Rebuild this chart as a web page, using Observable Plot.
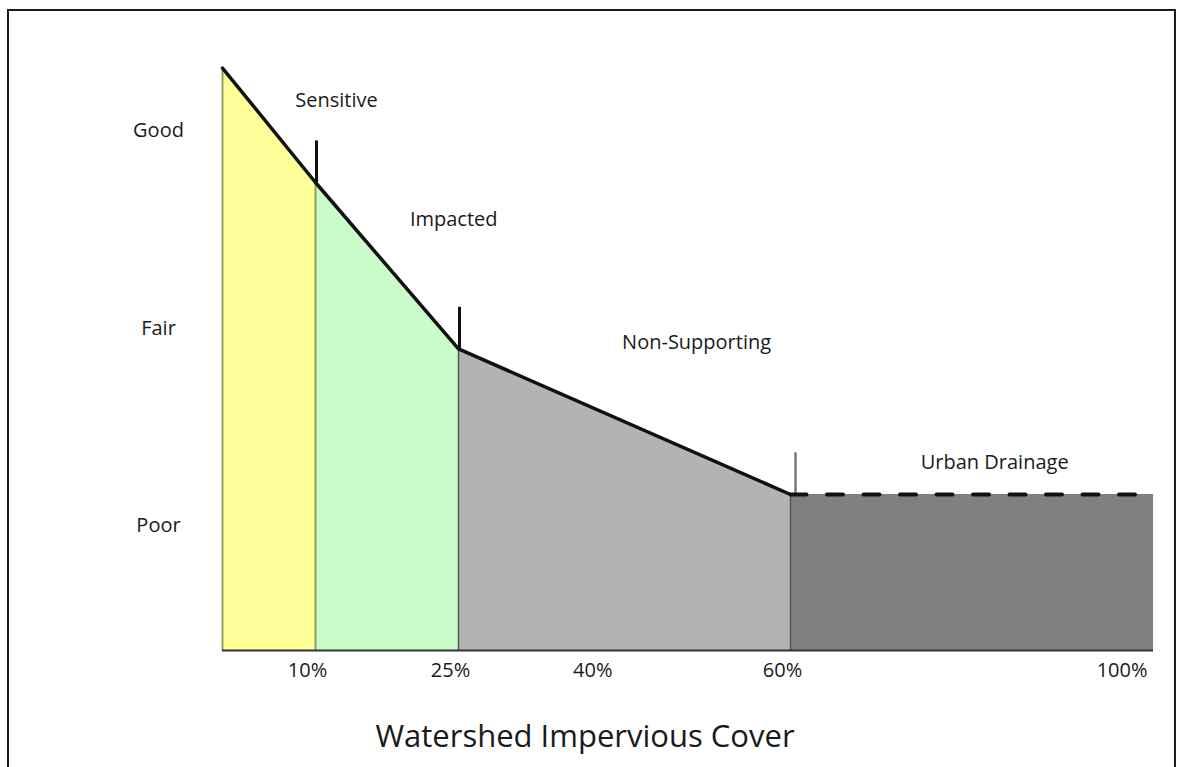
<!DOCTYPE html>
<html>
<head>
<meta charset="utf-8">
<script src="https://cdn.jsdelivr.net/npm/d3@7"></script>
<script src="https://cdn.jsdelivr.net/npm/@observablehq/plot@0.6"></script>
<style>
  html, body { margin: 0; padding: 0; background: #fff; }
  #wrap { position: relative; width: 1182px; height: 767px; overflow: hidden; background: #fff; font-family: "Open Sans", sans-serif; }
  #frame { position: absolute; left: 7px; top: 9px; width: 1169px; height: 800px; border: 2px solid #1c1c1c; box-sizing: border-box; }
  #chart { position: absolute; left: 0; top: 0; }
  #title { position: absolute; left: 0; width: 1170px; top: 720px; text-align: center; font-size: 31px; line-height: 31px; color: #1a1a1a; font-family: "Open Sans", sans-serif; }
</style>
</head>
<body>
<div id="wrap">
  <div id="frame"></div>
  <div id="chart"></div>
  <div id="title">Watershed Impervious Cover</div>
</div>
<script>
// Impervious cover break points (%) and stream quality index at each
const breakX = [0, 10, 25, 60, 100];
const quality = [112, 90, 58, 30, 30];
// Zones
const zones = ["Sensitive", "Impacted", "Non-Supporting", "Urban Drainage"];
const zoneColors = ["#ffff99", "#c9fcc9", "#b3b3b3", "#808080"];
// Zone label anchor positions (impervious %, quality index)
const labelX = [12.2, 24.5, 50.1, 82.5];
const labelY = [105.8, 82.9, 59.2, 36.2];
// Axis ticks
const xTicks = [10, 25, 40, 60, 100];
const yTicks = [24, 62, 100];
const yTickLabels = ["Poor", "Fair", "Good"];

const zoneData = zones.flatMap((z, i) => [
  {zone: z, x: breakX[i], q: quality[i]},
  {zone: z, x: breakX[i + 1], q: quality[i + 1]}
]);
const pts = breakX.map((x, i) => ({x, q: quality[i]}));
const labels = zones.map((z, i) => ({zone: z, x: labelX[i], q: labelY[i]}));
const yLabelOf = new Map(yTicks.map((v, i) => [v, yTickLabels[i]]));

const chart = Plot.plot({
  width: 1182,
  height: 700,
  marginLeft: 222,
  marginRight: 29,
  marginTop: 67.6,
  marginBottom: 50,
  x: {type: "linear", domain: breakX, range: [222, 315, 458, 790, 1153], axis: null},
  y: {domain: [0, 112], range: [650, 67.6], axis: null},
  color: {domain: zones, range: zoneColors},
  style: {fontFamily: "'Open Sans', sans-serif", background: "transparent", color: "#1a1a1a"},
  marks: [
    Plot.areaY(zoneData, {x: "x", y1: 0, y2: "q", z: "zone", fill: "zone", curve: "linear"}),
    // zone edges
    Plot.ruleX(pts.filter(d => d.x <= 10), {x: "x", y1: 0, y2: "q", stroke: "#9a9a60", strokeWidth: 2}),
    Plot.ruleX(pts.filter(d => d.x === 25 || d.x === 60), {x: "x", y1: 0, y2: "q", stroke: "#4f5a4f", strokeWidth: 1.5}),
    // baseline
    Plot.ruleY([0], {x1: 0, x2: 100, stroke: "#333", strokeWidth: 2}),
    // threshold tick marks
    Plot.ruleX(pts.filter(d => d.x === 10 || d.x === 25), {x: "x", y1: "q", y2: d => d.q + 8, dx: 1, stroke: "#111", strokeWidth: 3}),
    Plot.ruleX(pts.filter(d => d.x === 60), {x: "x", y1: "q", y2: d => d.q + 8, dx: 5, stroke: "#777", strokeWidth: 2.5}),
    // quality line
    Plot.line(pts.filter(d => d.x <= 60), {x: "x", y: "q", stroke: "#111", strokeWidth: 3.5}),
    Plot.line(pts.filter(d => d.x >= 60), {x: "x", y: "q", stroke: "#111", strokeWidth: 4, strokeDasharray: "16 20.5"}),
    // zone labels
    Plot.text(labels, {x: "x", y: "q", text: "zone", fontSize: 20, fill: "#1a1a1a"}),
    // x tick labels
    Plot.text(xTicks.filter(d => d < 100), {x: d => d, y: 0, text: d => d + "%", dy: 20, dx: -8, fontSize: 20, fill: "#1a1a1a"}),
    Plot.text(xTicks.filter(d => d === 100), {x: d => d, y: 0, text: d => d + "%", dy: 20, dx: -6, textAnchor: "end", fontSize: 20, fill: "#1a1a1a"}),
    // y axis
    Plot.axisY(yTicks, {tickFormat: d => yLabelOf.get(d), tickSize: 0, tickPadding: 0, dx: -64, textAnchor: "middle", fontSize: 20, fill: "#1a1a1a", label: null})
  ]
});
document.getElementById("chart").appendChild(chart);
</script>
</body>
</html>
